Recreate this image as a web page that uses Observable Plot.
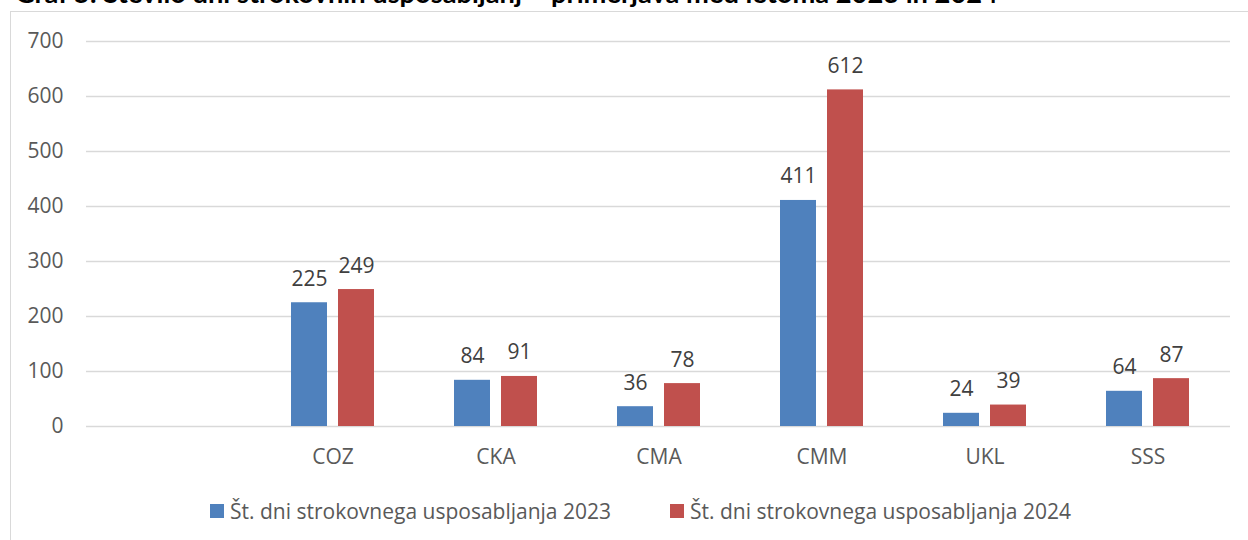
<!DOCTYPE html>
<html><head><meta charset="utf-8">
<script src="https://cdn.jsdelivr.net/npm/d3@7"></script>
<script src="https://cdn.jsdelivr.net/npm/@observablehq/plot@0.6"></script>
<style>
body{margin:0;width:1248px;height:540px;overflow:hidden;position:relative;background:#fff;font-family:"Open Sans",sans-serif;}
#frame{position:absolute;left:10px;top:11px;width:1280px;height:560px;border:1.5px solid #d9d9d9;box-sizing:border-box;}
#title{position:absolute;left:15px;top:0;white-space:nowrap;font-weight:bold;color:#000;line-height:1;font-family:Lato,sans-serif;}
#chart{position:absolute;left:0;top:0;}
.item{position:absolute;top:500px;height:22px;display:flex;align-items:center;font-size:21px;line-height:22px;color:#595959;white-space:nowrap;}
.sw{width:14px;height:14px;margin-right:6px;flex:none;}
</style></head><body>
<div id="frame"></div>
<div id="title"></div>
<div id="chart"></div>
<div id="legend"></div>
<script>
const categories = ["", "COZ", "CKA", "CMA", "CMM", "UKL", "SSS"];
const values2023 = [null, 225, 84, 36, 411, 24, 64];
const values2024 = [null, 249, 91, 78, 612, 39, 87];
const yTicks = [0, 100, 200, 300, 400, 500, 600, 700];
const seriesNames = ["Št. dni strokovnega usposabljanja 2023", "Št. dni strokovnega usposabljanja 2024"];
const seriesColors = ["#4F81BD", "#C0504D"];
const titleText = "Graf 5: Število dni strokovnih usposabljanj – primerjava med letoma 2023 in 2024";

const rows = categories.map((c, i) => ({category: c, v2023: values2023[i], v2024: values2024[i]}))
  .filter(d => d.v2023 != null);

// Title (mostly cropped at the top, as in the reference)
const title = document.getElementById("title");
title.style.fontSize = "20px";
title.textContent = titleText;
const w = title.getBoundingClientRect().width;
const fs = 20 * 983 / w;
title.style.fontSize = fs + "px";
const probe = document.createElement("span");
probe.style.cssText = "display:inline-block;width:0;height:0;vertical-align:baseline";
title.appendChild(probe);
const baseline = probe.offsetTop;
title.style.top = (3 - baseline) + "px";

const chart = Plot.plot({
  width: 1248,
  height: 480,
  marginLeft: 86,
  marginRight: 18,
  marginTop: 41,
  marginBottom: 54,
  style: {fontFamily: "'Open Sans', sans-serif", fontSize: "21px", color: "#595959", background: "none", overflow: "visible"},
  x: {domain: categories, paddingInner: 0.492, paddingOuter: 0.246, label: null},
  y: {domain: [0, 700], label: null},
  marks: [
    Plot.gridY(yTicks, {stroke: "#d9d9d9", strokeOpacity: 1, strokeWidth: 1.5}),
    Plot.axisY(yTicks, {tickSize: 0, tickPadding: 23, label: null}),
    Plot.axisX({tickSize: 0, tickPadding: 23, label: null}),
    Plot.barY(rows, {x: "category", y: "v2023", fill: seriesColors[0], insetRight: 47}),
    Plot.barY(rows, {x: "category", y: "v2024", fill: seriesColors[1], insetLeft: 47}),
    Plot.text(rows, {x: "category", y: "v2023", text: "v2023", dx: -23.5, dy: -23.7, fill: "#404040"}),
    Plot.text(rows, {x: "category", y: "v2024", text: "v2024", dx: 23.5, dy: -23.7, fill: "#404040"})
  ]
});
document.getElementById("chart").appendChild(chart);

// Legend
const legend = document.getElementById("legend");
const lefts = [210, 670];
seriesNames.forEach((name, i) => {
  const item = document.createElement("div");
  item.className = "item";
  item.style.left = lefts[i] + "px";
  const sw = document.createElement("span");
  sw.className = "sw";
  sw.style.background = seriesColors[i];
  item.appendChild(sw);
  item.appendChild(document.createTextNode(name));
  legend.appendChild(item);
});
</script>
</body></html>
